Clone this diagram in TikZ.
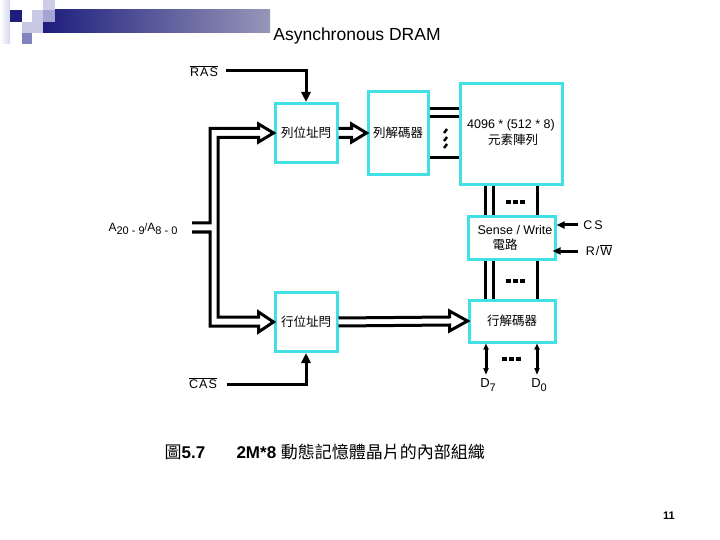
\documentclass[tikz,border=0pt]{standalone}
\usepackage{fontspec}
\setmainfont{Liberation Sans}
\newfontfamily\cjk{Noto Sans CJK TC}
\usetikzlibrary{arrows.meta,calc}
\definecolor{cy}{RGB}{64,224,228}
\definecolor{navy}{RGB}{30,30,125}
\definecolor{lgA}{RGB}{215,215,238}
\definecolor{lgB}{RGB}{200,200,232}
\definecolor{lgC}{RGB}{205,205,232}
\definecolor{lgD}{RGB}{165,165,212}
\definecolor{lgE}{RGB}{200,200,228}
\definecolor{lgF}{RGB}{130,130,190}
\definecolor{bandend}{RGB}{150,150,185}
\begin{document}
\begin{tikzpicture}[x=1pt,y=-1pt,
  box/.style={draw=cy,line width=3pt,inner sep=0pt,fill=white,
    font=\cjk\fontsize{12.5}{15}\selectfont},
  lbl/.style={inner sep=0pt,font=\fontsize{12.5}{15}\selectfont},
  wire/.style={line width=3pt},
  hol/.style={line width=3pt,fill=white,line join=miter},
  sig/.style={line width=3pt,-{Triangle[length=10pt,width=9pt]}},
  small/.style={line width=3pt,-{Triangle[length=8pt,width=7pt]}},
  dat/.style={line width=3pt,{Triangle[length=6pt,width=5pt]}-{Triangle[length=7pt,width=5pt]}},
  dotsq/.style={fill=black,minimum width=5pt,minimum height=3.5pt,inner sep=0pt}]
\useasboundingbox (0,0) rectangle (720,540);
% logo
\fill[left color=white,right color=lgA] (0,0) rectangle (10,44);
\fill[left color=navy,right color=bandend] (43,10) rectangle (270,33);
\fill[navy] (10,10) rectangle (22,22);
\fill[lgB] (32,10) rectangle (43,22);
\fill[lgC] (43,0) rectangle (55,10);
\fill[lgD] (43,10) rectangle (55,22);
\fill[lgE] (22,22) rectangle (43,33);
\fill[lgF] (22,33) rectangle (32,44);
% title
\node[font=\fontsize{17.5}{20}\selectfont] (title) at (357,36) {Asynchronous DRAM};
% boxes
\node[box,minimum width=62pt,minimum height=59pt] (la) at (306,133) {列位址閂};
\node[box,minimum width=60pt,minimum height=83pt] (ld) at (398,133) {列解碼器};
\node[box,minimum width=102pt,minimum height=101pt] (arr) at (511,134.5) {};
\node[lbl] (arrt) at (511,125) {4096 * (512 * 8)};
\node[lbl,font=\cjk\fontsize{12.5}{15}\selectfont] (arrc) at (513,140) {元素陣列};
\node[box,minimum width=87pt,minimum height=42pt] (sw) at (511.5,238) {};
\node[lbl] (swt) at (515,230) {Sense / Write};
\node[lbl,font=\cjk\fontsize{12.5}{15}\selectfont] (swc) at (505,245) {電路};
\node[box,minimum width=62pt,minimum height=59pt] (ca) at (306,322) {行位址閂};
\node[box,minimum width=86pt,minimum height=42pt] (cd) at (512,321) {行解碼器};
% labels
\node[lbl] (ras) at (204,71) {$\overline{\hbox{R\kern1pt A\kern1pt S}}$};
\node[lbl] (cas) at (203,383) {$\overline{\hbox{C\kern1pt A\kern1pt S}}$};
\node[lbl,font=\fontsize{12}{14}\selectfont] (addr) at (143,229) {A\raisebox{-0.45ex}{\fontsize{11}{12}\selectfont 20 - 9}\raisebox{0.2ex}{\fontsize{10}{12}\selectfont/}A\raisebox{-0.45ex}{\fontsize{11}{12}\selectfont 8 - 0}};
\node[lbl] (cs) at (593,225) {C\kern2pt S};
\node[lbl] (rw) at (599,250) {R\kern1pt/\kern1pt$\overline{\hbox{W}}$};
\node[lbl,font=\fontsize{13}{15}\selectfont] (d7) at (488,385) {D\raisebox{-0.5ex}{\fontsize{11}{12}\selectfont 7}};
\node[lbl,font=\fontsize{13}{15}\selectfont] (d0) at (539,385) {D\raisebox{-0.5ex}{\fontsize{11}{12}\selectfont 0}};
% caption
\node[font=\fontsize{17}{20}\selectfont] (fig) at (185,452) {{\cjk 圖}\textbf{5.7}};
\node[font=\fontsize{17}{20}\selectfont,anchor=west] (cap) at (233,452) {\textbf{2M*8} {\cjk 動態記憶體晶片的內部組織}};
\node[font=\bfseries\fontsize{11}{12}\selectfont] (pg) at (669,516) {11};
% RAS / CAS
\coordinate (rasend) at (226,71);
\coordinate (casend) at (227,384);
\draw[sig] (rasend) -| (la.north);
\draw[sig] (casend) -| (ca.south);
% hollow arrow la -> ld
\draw[hol] ($(la.east)+(0,-4.5)$) -- ($(ld.west)+(-15,-4.5)$) -- ($(ld.west)+(-15,-9)$) -- (ld.west)
  -- ($(ld.west)+(-15,9)$) -- ($(ld.west)+(-15,4.5)$) -- ($(la.east)+(0,4.5)$);
% hollow arrow ca -> cd
\draw[hol] ($(ca.east)+(0,-4)$) -- ($(cd.west)+(-18,-4)$) -- ($(cd.west)+(-18,-10)$) -- (cd.west)
  -- ($(cd.west)+(-18,10)$) -- ($(cd.west)+(-18,4)$) -- ($(ca.east)+(0,4)$);
% address bus
\coordinate (s1) at (192,223);
\coordinate (s2) at (192,232);
\coordinate (bl) at (210,223);
\coordinate (br) at (218,223);
\draw[hol] (s1) -- (bl) -- ($(bl |- la.west)+(0,-4.5)$) -- ($(la.west)+(-15,-4.5)$)
  -- ($(la.west)+(-15,-9)$) -- (la.west) -- ($(la.west)+(-15,9)$) -- ($(la.west)+(-15,4.5)$)
  -- ($(br |- la.west)+(0,4.5)$) -- ($(br |- ca.west)+(0,-5)$) -- ($(ca.west)+(-15,-5)$)
  -- ($(ca.west)+(-15,-10)$) -- (ca.west) -- ($(ca.west)+(-15,10)$) -- ($(ca.west)+(-15,4)$)
  -- ($(bl |- ca.west)+(0,4)$) -- (bl |- s2) -- (s2);
% row decoder -> array lines
\foreach \yy in {109,117,158} {
  \coordinate (h) at (0,\yy);
  \draw[wire] (ld.east |- h) -- (arr.west |- h);
}
\foreach \yy in {131,139,146} \draw[line width=2.5pt] (444,\yy+2) -- (447,\yy-2);
% column lines
\foreach \xx in {485,493,537} {
  \coordinate (v) at (\xx,0);
  \draw[wire] (v |- arr.south) -- (v |- sw.north);
  \draw[wire] (v |- sw.south) -- (v |- cd.north);
}
\foreach \yy in {202,281} \foreach \xx in {508,515,522} \node[dotsq] at (\xx,\yy) {};
\foreach \xx in {504,511,518} \node[dotsq] at (\xx,359) {};
% CS, R/W
\coordinate (csend) at (578,225);
\coordinate (rwend) at (578,251);
\draw[small] (csend) -- (sw.east |- csend);
\draw[small] (rwend) -- ($(sw.east |- rwend)+(-4,0)$);
% data lines
\coordinate (d7top) at (486,0);
\coordinate (d0top) at (537,0);
\draw[dat] (d7top |- cd.south) -- (486,375);
\draw[dat] (d0top |- cd.south) -- (537,375);
\end{tikzpicture}
\end{document}
